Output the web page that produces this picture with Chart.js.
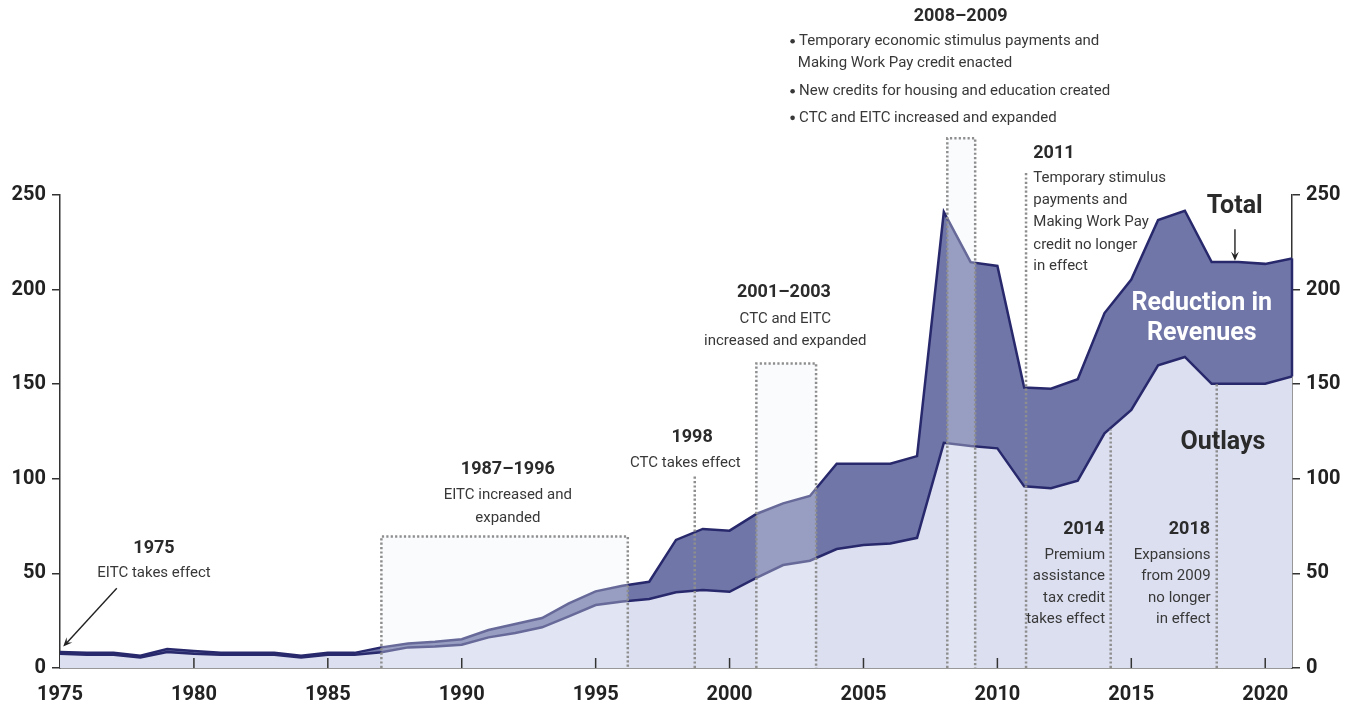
<!DOCTYPE html>
<html>
<head>
<meta charset="utf-8">
<script src="https://cdn.jsdelivr.net/npm/chart.js@4.4.1/dist/chart.umd.min.js"></script>
<style>
  html, body { margin: 0; padding: 0; background: #fff; }
  #wrap { width: 1354px; height: 708px; position: relative; }
</style>
</head>
<body>
<div id="wrap"><canvas id="chart"></canvas></div>
<script>
// Refundable tax credits, billions of dollars
const years = [1975, 1976, 1977, 1978, 1979, 1980, 1981, 1982, 1983, 1984, 1985, 1986,
  1987, 1988, 1989, 1990, 1991, 1992, 1993, 1994, 1995, 1996, 1997,
  1998, 1999, 2000, 2001, 2002, 2003, 2004, 2005, 2006, 2007,
  2008, 2009, 2010, 2011, 2012, 2013, 2014, 2015, 2016, 2017, 2018, 2019, 2020, 2021];

const outlays = [7.5, 7, 7, 5.5, 8.5, 7.5, 7, 7, 7, 5.5, 7, 7,
  8.3, 10.9, 11.3, 12.3, 16.2, 18.5, 21.5, 27.3, 33.3, 35.2, 36.5,
  40, 41.2, 40.3, 47.6, 54.4, 56.7, 62.9, 65, 65.8, 68.8,
  119, 117.3, 116.1, 96, 95, 99, 124, 136.4, 160, 164.4, 150.2, 150.2, 150.2, 154.1];

const total = [8.5, 8, 8, 6.5, 10, 9, 8, 8, 8, 6.5, 8, 8,
  10.9, 13, 13.9, 15.2, 20.1, 23.3, 26.4, 34.2, 40.5, 43.5, 45.6,
  67.7, 73.5, 72.6, 81.4, 87, 90.9, 108, 108, 108, 112,
  241, 214.5, 212.5, 148.2, 147.6, 152.6, 187.6, 205.3, 236.8, 241.7, 214.6, 214.6, 213.6, 216.5];

const xTicks = [1975, 1980, 1985, 1990, 1995, 2000, 2005, 2010, 2015, 2020];

// legislative periods (shaded boxes) and single-year markers, in data units
const spans = [
  {from: 1987.0, to: 1996.2, top: 69.5},
  {from: 2001.0, to: 2003.23, top: 161},
  {from: 2008.13, to: 2009.17, top: 280}
];
const markers = [
  {at: 1998.7, top: 101.5},
  {at: 2011.07, top: 262},
  {at: 2014.23, top: 126},
  {at: 2018.19, top: 150}
];

const FONT = 'Roboto, "Noto Sans", sans-serif';
const NAVY = '#28286c';

// text notes: x in years, y in billions
const notes = [
  {x: 1978.51, y: 63.4, text: '1975', bold: true},
  {x: 1978.51, y: 50.2, text: 'EITC takes effect'},
  {x: 1991.72, y: 104.7, text: '1987–1996', bold: true},
  {x: 1991.72, y: 91.1, text: 'EITC increased and'},
  {x: 1991.72, y: 79.1, text: 'expanded'},
  {x: 1998.6, y: 121.7, text: '1998', bold: true},
  {x: 1998.35, y: 108.2, text: 'CTC takes effect'},
  {x: 2002.03, y: 198.6, text: '2001–2003', bold: true},
  {x: 2002.08, y: 184.3, text: 'CTC and EITC'},
  {x: 2002.08, y: 172.5, text: 'increased and expanded'},
  {x: 2008.63, y: 344.2, text: '2008–2009', bold: true},
  {x: 2002.26, y: 331, text: 'Temporary economic stimulus payments and', align: 'left', bullet: true},
  {x: 2002.55, y: 319.6, text: 'Making Work Pay credit enacted', align: 'left'},
  {x: 2002.26, y: 304.6, text: 'New credits for housing and education created', align: 'left', bullet: true},
  {x: 2002.26, y: 290.5, text: 'CTC and EITC increased and expanded', align: 'left', bullet: true},
  {x: 2011.34, y: 271.7, text: '2011', bold: true, align: 'left'},
  {x: 2011.34, y: 258.9, text: 'Temporary stimulus', align: 'left'},
  {x: 2011.34, y: 247.3, text: 'payments and', align: 'left'},
  {x: 2011.34, y: 235.4, text: 'Making Work Pay', align: 'left'},
  {x: 2011.34, y: 223.6, text: 'credit no longer', align: 'left'},
  {x: 2011.34, y: 212.2, text: 'in effect', align: 'left'},
  {x: 2014.0, y: 73, text: '2014', bold: true, align: 'right'},
  {x: 2014.02, y: 59.6, text: 'Premium', align: 'right'},
  {x: 2014.02, y: 48.4, text: 'assistance', align: 'right'},
  {x: 2014.02, y: 37, text: 'tax credit', align: 'right'},
  {x: 2014.02, y: 25.6, text: 'takes effect', align: 'right'},
  {x: 2017.94, y: 73, text: '2018', bold: true, align: 'right'},
  {x: 2017.96, y: 59.6, text: 'Expansions', align: 'right'},
  {x: 2017.96, y: 48.4, text: 'from 2009', align: 'right'},
  {x: 2017.96, y: 37, text: 'no longer', align: 'right'},
  {x: 2017.96, y: 25.6, text: 'in effect', align: 'right'},
  {x: 2018.86, y: 244, text: 'Total', big: true},
  {x: 2017.63, y: 192.5, text: 'Reduction in', big: true, color: '#ffffff'},
  {x: 2017.63, y: 176.8, text: 'Revenues', big: true, color: '#ffffff'},
  {x: 2018.42, y: 119.3, text: 'Outlays', big: true}
];

const arrows = [
  {x1: 1977.12, y1: 42.1, x2: 1975.12, y2: 11.3},
  {x1: 2018.87, y1: 231.9, x2: 2018.87, y2: 215.2}
];

function drawArrow(ctx, x1, y1, x2, y2) {
  const ang = Math.atan2(y2 - y1, x2 - x1);
  const head = 10;
  ctx.beginPath();
  ctx.moveTo(x1, y1);
  ctx.lineTo(x2 - Math.cos(ang) * 4, y2 - Math.sin(ang) * 4);
  ctx.stroke();
  ctx.beginPath();
  ctx.moveTo(x2, y2);
  ctx.lineTo(x2 - head * Math.cos(ang - 0.4), y2 - head * Math.sin(ang - 0.4));
  ctx.lineTo(x2 - head * 0.55 * Math.cos(ang), y2 - head * 0.55 * Math.sin(ang));
  ctx.lineTo(x2 - head * Math.cos(ang + 0.4), y2 - head * Math.sin(ang + 0.4));
  ctx.closePath();
  ctx.fill();
}

const overlayPlugin = {
  id: 'overlay',
  afterDatasetsDraw(chart) {
    const {ctx} = chart;
    const x = chart.scales.x, y = chart.scales.y;
    const base = y.getPixelForValue(0);
    const last = years.length - 1;
    ctx.save();

    // closing edge of the revenue band at the last year
    ctx.strokeStyle = NAVY;
    ctx.lineWidth = 2.5;
    ctx.beginPath();
    ctx.moveTo(x.getPixelForValue(years[last]), y.getPixelForValue(outlays[last]));
    ctx.lineTo(x.getPixelForValue(years[last]), y.getPixelForValue(total[last]));
    ctx.stroke();

    // shaded periods
    spans.forEach(s => {
      const x0 = x.getPixelForValue(s.from), x1 = x.getPixelForValue(s.to);
      const top = y.getPixelForValue(s.top);
      ctx.fillStyle = 'rgba(236,242,250,0.32)';
      ctx.fillRect(x0, top, x1 - x0, base - top);
    });

    ctx.strokeStyle = '#8e8e8e';
    ctx.lineWidth = 2.5;
    ctx.setLineDash([2.2, 2.2]);
    spans.forEach(s => {
      const x0 = x.getPixelForValue(s.from), x1 = x.getPixelForValue(s.to);
      const top = y.getPixelForValue(s.top);
      ctx.beginPath();
      ctx.moveTo(x0, base);
      ctx.lineTo(x0, top);
      ctx.lineTo(x1, top);
      ctx.lineTo(x1, base);
      ctx.stroke();
    });
    markers.forEach(m => {
      const px = x.getPixelForValue(m.at);
      ctx.beginPath();
      ctx.moveTo(px, base);
      ctx.lineTo(px, y.getPixelForValue(m.top));
      ctx.stroke();
    });
    ctx.setLineDash([]);

    // x ticks point up into the plot
    ctx.strokeStyle = '#333';
    ctx.lineWidth = 1.5;
    x.ticks.forEach(t => {
      if (t.value === x.min) return;
      const px = x.getPixelForValue(t.value);
      ctx.beginPath();
      ctx.moveTo(px, base);
      ctx.lineTo(px, base - 10);
      ctx.stroke();
    });
    ctx.restore();
  },
  afterDraw(chart) {
    const {ctx} = chart;
    const x = chart.scales.x, y = chart.scales.y;
    ctx.save();
    ctx.textBaseline = 'middle';
    notes.forEach(n => {
      let font = `15px ${FONT}`;
      if (n.bold) font = `bold 18px ${FONT}`;
      if (n.big) font = `bold 25px ${FONT}`;
      const color = n.color || (n.bold || n.big ? '#2b2b2b' : '#383838');
      let px = x.getPixelForValue(n.x);
      const py = y.getPixelForValue(n.y);
      ctx.fillStyle = color;
      if (n.bullet) {
        ctx.beginPath();
        ctx.arc(px + 2.5, py - 0.5, 2.3, 0, Math.PI * 2);
        ctx.fill();
        px += 9;
      }
      ctx.font = font;
      ctx.textAlign = n.align || 'center';
      ctx.fillText(n.text, px, py);
    });
    ctx.strokeStyle = '#222';
    ctx.fillStyle = '#222';
    ctx.lineWidth = 1.4;
    arrows.forEach(a => drawArrow(ctx,
      x.getPixelForValue(a.x1), y.getPixelForValue(a.y1),
      x.getPixelForValue(a.x2), y.getPixelForValue(a.y2)));
    ctx.restore();
  }
};

const tickFont = {family: FONT, size: 20, weight: 'bold'};
const yAxis = (position, width) => ({
  type: 'linear',
  position,
  min: 0,
  max: 250,
  ticks: {stepSize: 50, color: '#222', font: tickFont, padding: 6},
  grid: {drawOnChartArea: false, drawTicks: true, tickLength: 8, color: '#333', lineWidth: 1.5},
  border: {display: true, color: '#333', width: 1.5},
  afterFit: s => { s.width = width; }
});

new Chart(document.getElementById('chart').getContext('2d'), {
  type: 'line',
  data: {
    datasets: [
      {
        label: 'Outlays',
        data: years.map((yr, i) => ({x: yr, y: outlays[i]})),
        borderColor: NAVY,
        backgroundColor: '#dcdff0',
        borderWidth: 2.5,
        pointRadius: 0,
        tension: 0,
        fill: 'origin'
      },
      {
        label: 'Total',
        data: years.map((yr, i) => ({x: yr, y: total[i]})),
        borderColor: NAVY,
        backgroundColor: '#7077a8',
        borderWidth: 2.5,
        pointRadius: 0,
        tension: 0,
        fill: '-1'
      }
    ]
  },
  options: {
    responsive: true,
    maintainAspectRatio: false,
    animation: false,
    layout: {padding: {top: 195, left: 0, right: 0, bottom: 0}},
    plugins: {
      legend: {display: false},
      tooltip: {enabled: false}
    },
    scales: {
      x: {
        type: 'linear',
        min: 1975,
        max: 2021,
        ticks: {color: '#222', font: tickFont, padding: 15, maxRotation: 0, callback: v => String(v)},
        afterBuildTicks: s => { s.ticks = xTicks.map(v => ({value: v})); },
        grid: {drawOnChartArea: false, drawTicks: false},
        border: {display: true, color: '#333', width: 1.5},
        afterFit: s => { s.height = 40; }
      },
      y: yAxis('left', 60),
      y2: yAxis('right', 62)
    }
  },
  plugins: [overlayPlugin]
});
</script>
</body>
</html>
